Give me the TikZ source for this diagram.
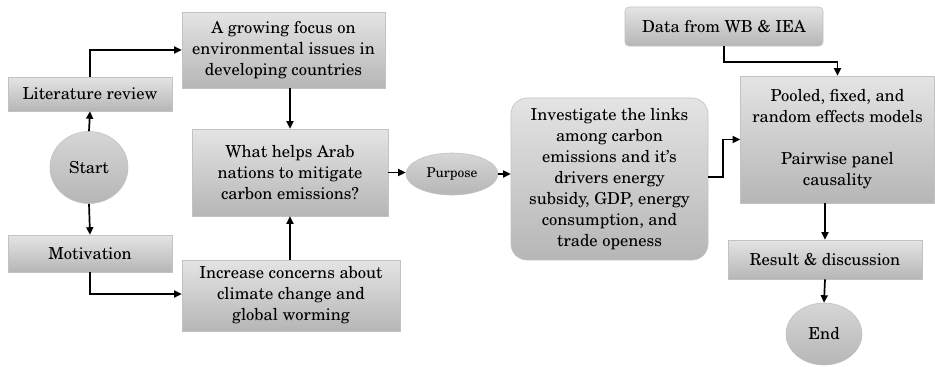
\documentclass[tikz,border=0pt]{standalone}
\usepackage[T1]{fontenc}
\usepackage{newcent}
\usetikzlibrary{shapes.geometric,arrows.meta}
\definecolor{boxtop}{HTML}{E4E4E4}
\definecolor{boxbot}{HTML}{B6B6B6}
\definecolor{boxline}{HTML}{C2C2C2}
\begin{document}
\begin{tikzpicture}[x=1pt,y=-1pt,
  every node/.style={font=\fontsize{16.5}{21}\selectfont, align=center, inner sep=0pt},
  gbox/.style={rectangle, draw=boxline, line width=0.6pt, top color=boxtop, bottom color=boxbot},
  gell/.style={ellipse, draw=boxline, line width=0.6pt, top color=boxtop!70!boxbot, bottom color=boxbot},
  arr/.style={line width=1.7pt, -{Triangle[length=7.5pt,width=7pt]}}]
\useasboundingbox (0,0) rectangle (935,367);

\node[gbox, minimum width=164pt, minimum height=34pt] (lit) at (90,94) {Literature review};
\node[gbox, minimum width=203pt, minimum height=76pt] (grow) at (283.5,50) {A growing focus on\\environmental issues in\\developing countries};
\node[gell, minimum width=78pt, minimum height=72pt] (start) at (89,167.5) {Start};
\node[gbox, minimum width=196pt, minimum height=87pt] (what) at (290,172.5) {What helps Arab\\nations to mitigate\\carbon emissions?};
\node[gbox, minimum width=164pt, minimum height=37pt] (mot) at (90,253.5) {Motivation};
\node[gbox, minimum width=218pt, minimum height=71pt] (inc) at (291,295.5) {Increase concerns about\\climate change and\\global worming};
\node[gell, minimum width=92pt, minimum height=42pt, font=\fontsize{13.5}{15}\selectfont] (purp) at (452,174) {Purpose};
\node[gbox, rounded corners=16pt, minimum width=197pt, minimum height=162pt] (inv) at (609.5,179) {Investigate the links\\among carbon\\emissions and it's\\drivers energy\\subsidy, GDP, energy\\consumption, and\\trade openess};
\node[gbox, rounded corners=4pt, minimum width=198pt, minimum height=39pt] (data) at (724,26.5) {Data from WB \& IEA};
\node[gbox, minimum width=194pt, minimum height=127pt] (pool) at (837.5,139.5) {Pooled, fixed, and\\random effects models\\[21pt]Pairwise panel\\causality};
\node[gbox, minimum width=194pt, minimum height=39pt] (res) at (825,259.5) {Result \& discussion};
\node[gell, minimum width=76pt, minimum height=62pt] (endn) at (824,334) {End};

\draw[arr] (start.north) -- (lit.south);
\draw[arr] (lit.north) |- (grow.west);
\draw[arr] (start.south) -- (mot.north);
\draw[arr] (mot.south) |- ([yshift=1.5pt]inc.west);
\draw[arr] (what.north |- grow.south) -- (what.north);
\draw[arr] (what.south |- inc.north) -- (what.south);
\draw[arr] (what.east) -- (what.east -| purp.west);
\draw[arr] (purp.east) -- (purp.east -| inv.west);
\draw[arr] ([yshift=2pt]inv.east) -- ++(15,0) |- (pool.west);
\draw[arr] (data.south) -- ++(0,15.5) -| (pool.north);
\draw[arr] (pool.south -| res.north) -- (res.north);
\draw[arr] (res.south) -- (endn.north);
\end{tikzpicture}
\end{document}
